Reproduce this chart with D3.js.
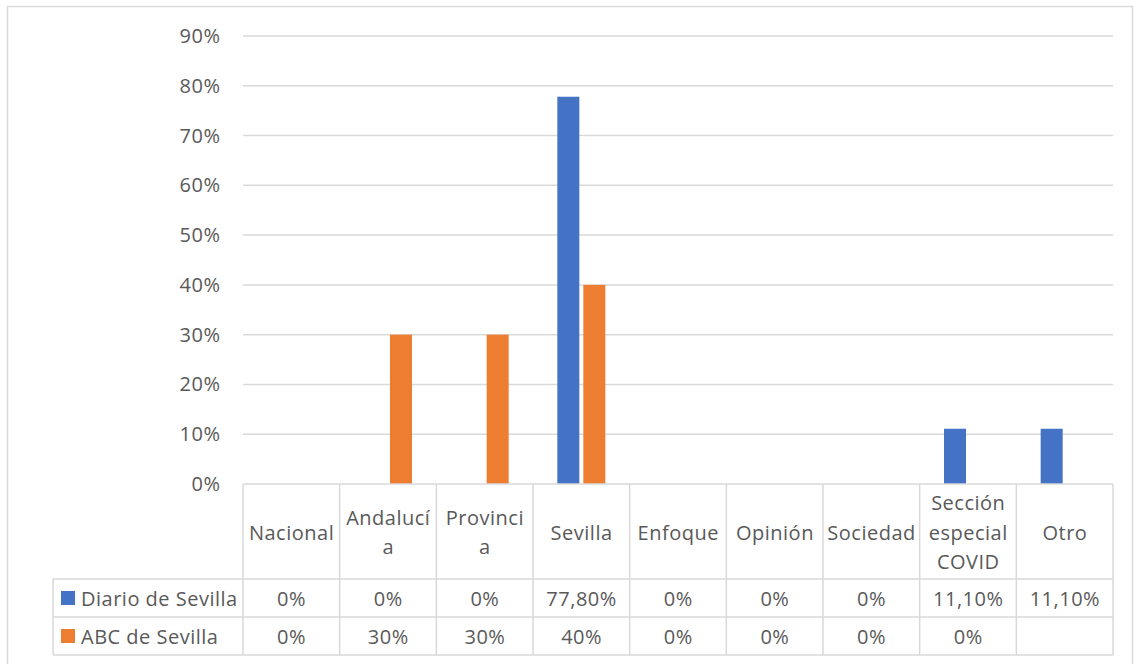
<!DOCTYPE html>
<html>
<head>
<meta charset="utf-8">
<script src="https://cdn.jsdelivr.net/npm/d3@7"></script>
<style>
  html, body { margin: 0; padding: 0; background: #fff; }
  svg { display: block; }
  text { font-family: "Open Sans", "Noto Sans", sans-serif; fill: #595959; letter-spacing: 0.5px; }
</style>
</head>
<body>
<svg id="chart" width="1134" height="664"></svg>
<script>
// ---- data ----
const categories = ["Nacional", "Andalucía", "Provincia", "Sevilla", "Enfoque", "Opinión", "Sociedad", "Sección especial COVID", "Otro"];
const headerLines = [["Nacional"], ["Andalucí", "a"], ["Provinci", "a"], ["Sevilla"], ["Enfoque"], ["Opinión"], ["Sociedad"], ["Sección", "especial", "COVID"], ["Otro"]];
const seriesNames = ["Diario de Sevilla", "ABC de Sevilla"];
const diarioValues = [0, 0, 0, 77.8, 0, 0, 0, 11.1, 11.1];
const abcValues = [0, 30, 30, 40, 0, 0, 0, 0, null];
const diarioLabels = ["0%", "0%", "0%", "77,80%", "0%", "0%", "0%", "11,10%", "11,10%"];
const abcLabels = ["0%", "30%", "30%", "40%", "0%", "0%", "0%", "0%", ""];
const yTicks = [0, 10, 20, 30, 40, 50, 60, 70, 80, 90];
const colors = ["#4472C4", "#ED7D31"];

// ---- layout ----
const svg = d3.select("#chart");
const plotLeft = 243, plotRight = 1113, plotTop = 36, plotBottom = 484;
const legendLeft = 53;
const row1Top = 579, row2Top = 617, tableBottom = 655;
const gridColor = "#d9d9d9";
const fs = 20;
const ls = 0.5;

// outer border
svg.append("rect").attr("x", 7.5).attr("y", 6.5).attr("width", 1125).attr("height", 700)
  .attr("fill", "none").attr("stroke", gridColor).attr("stroke-width", 1.5);

const x = d3.scaleBand().domain(categories).range([plotLeft, plotRight]).paddingInner(0).paddingOuter(0);
const y = d3.scaleLinear().domain([0, 90]).range([plotBottom, plotTop]);

// gridlines
svg.append("g").selectAll("line").data(yTicks.filter(d => d > 0)).join("line")
  .attr("x1", plotLeft).attr("x2", plotRight)
  .attr("y1", d => y(d)).attr("y2", d => y(d))
  .attr("stroke", gridColor).attr("stroke-width", 1.5);

// y tick labels
svg.append("g").selectAll("text").data(yTicks).join("text")
  .attr("x", 220 + ls).attr("y", d => y(d)).attr("dy", "0.35em")
  .attr("text-anchor", "end").attr("font-size", fs)
  .text(d => d + "%");

// bars
const barW = 22, gap = 4;
const seriesData = [diarioValues, abcValues];
seriesData.forEach((vals, si) => {
  svg.append("g").selectAll("rect").data(vals.map((v, i) => ({ v, c: categories[i] })).filter(d => d.v != null && d.v > 0))
    .join("rect")
    .attr("x", d => x(d.c) + x.bandwidth() / 2 + (si === 0 ? -(barW + gap / 2) : gap / 2))
    .attr("width", barW)
    .attr("y", d => y(d.v))
    .attr("height", d => y(0) - y(d.v))
    .attr("fill", colors[si]);
});

// table lines
const tg = svg.append("g").attr("stroke", gridColor).attr("stroke-width", 1.5);
tg.append("line").attr("x1", plotLeft).attr("x2", plotRight).attr("y1", plotBottom).attr("y2", plotBottom);
[row1Top, row2Top, tableBottom].forEach(yy => {
  tg.append("line").attr("x1", legendLeft).attr("x2", plotRight).attr("y1", yy).attr("y2", yy);
});
const colEdges = categories.map(c => x(c)).concat([plotRight]);
colEdges.forEach(xx => {
  tg.append("line").attr("x1", xx).attr("x2", xx).attr("y1", plotBottom).attr("y2", tableBottom);
});
tg.append("line").attr("x1", legendLeft).attr("x2", legendLeft).attr("y1", row1Top).attr("y2", tableBottom);

// header text
const lineH = 29.5;
const headerMid = (plotBottom + row1Top) / 2 + 1;
headerLines.forEach((lines, i) => {
  const cx = x(categories[i]) + x.bandwidth() / 2 + ls / 2;
  const t = svg.append("text").attr("text-anchor", "middle").attr("font-size", fs);
  lines.forEach((ln, k) => {
    t.append("tspan").attr("x", cx)
      .attr("y", headerMid + (k - (lines.length - 1) / 2) * lineH)
      .attr("dy", "0.35em").text(ln);
  });
});

// value rows
const rowLabels = [diarioLabels, abcLabels];
const rowTops = [row1Top, row2Top];
rowLabels.forEach((labels, r) => {
  const cy = (rowTops[r] + (r === 0 ? row2Top : tableBottom)) / 2 + 1;
  svg.append("g").selectAll("text").data(labels).join("text")
    .attr("x", (d, i) => x(categories[i]) + x.bandwidth() / 2 + ls / 2)
    .attr("y", cy).attr("dy", "0.35em")
    .attr("text-anchor", "middle").attr("font-size", fs)
    .text(d => d);
  svg.append("rect").attr("x", 61).attr("y", cy - 8).attr("width", 14).attr("height", 14).attr("fill", colors[r]);
  svg.append("text").attr("x", 81).attr("y", cy).attr("dy", "0.35em").attr("font-size", fs).text(seriesNames[r]);
});
</script>
</body>
</html>
